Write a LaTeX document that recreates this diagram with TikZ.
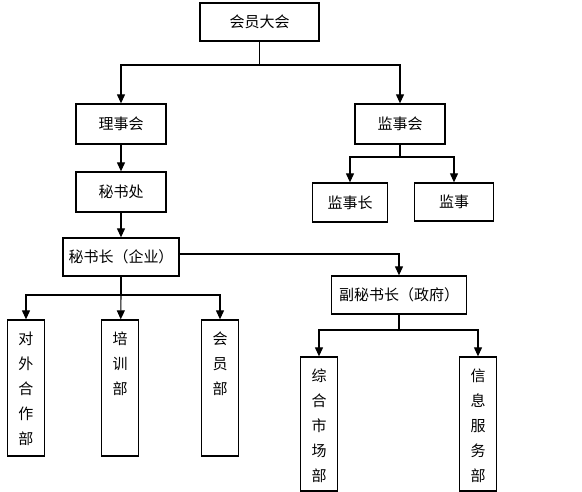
\documentclass[tikz,border=0pt]{standalone}
\usepackage{fontspec}
\newfontfamily\cjk{Noto Sans CJK SC}
\usetikzlibrary{positioning, arrows.meta}
\newcommand{\vlabel}[2]{\parbox[c][#1][t]{16pt}{\vspace*{3pt}\centering\baselineskip=25pt #2}}

\begin{document}
\begin{tikzpicture}[
        x=1pt, y=-1pt,
        box/.style={rectangle, draw=black, line width=1.3pt, minimum width=90pt, minimum height=40pt, align=center, font=\cjk\fontsize{15pt}{18pt}\selectfont, inner sep=0pt},
        vbox/.style={rectangle, draw=black, line width=1.3pt, minimum width=37pt, inner sep=0pt, font=\cjk\fontsize{15pt}{25pt}\selectfont},
        arr/.style={-{Triangle[width=8pt,length=9pt]}, line width=1.1pt},
        line/.style={line width=1.1pt}
    ]
    \useasboundingbox (0,0) rectangle (582,492);

    % MEMBERS
    \node[box, minimum width=119pt, minimum height=38pt] (dahui) at (259.5,22) {会员大会};

    % COUNCIL
    \node[box] (lishi) at (121,124) {理事会};
    \node[box] (mishuchu) at (121,192) {秘书处};
    \node[box, minimum width=116pt, minimum height=38pt] (mishuzhang) at (121,257) {秘书长（企业）};
    \node[box, minimum width=135pt, minimum height=38pt] (fumishu) at (399,295) {副秘书长（政府）};

    % SUPERVISORS
    \node[box] (jianshi) at (400,124) {监事会};
    \node[box, minimum width=75pt, minimum height=39pt] (jszhang) at (350,202.5) {监事长};
    \node[box, minimum width=79pt, minimum height=38pt] (jsshi) at (454,202) {监事};

    % DEPARTMENTS
    \node[vbox, minimum height=136pt] (duiwai) at (26,388) {\vlabel{118pt}{对\\外\\合\\作\\部}};
    \node[vbox, minimum height=136pt] (peixun) at (120,388) {\vlabel{118pt}{培\\训\\部}};
    \node[vbox, minimum height=136pt] (huiyuan) at (220,388) {\vlabel{118pt}{会\\员\\部}};
    \node[vbox, minimum height=134pt] (zonghe) at (319,424) {\vlabel{116pt}{综\\合\\市\\场\\部}};
    \node[vbox, minimum height=134pt] (xinxi) at (478,424) {\vlabel{116pt}{信\\息\\服\\务\\部}};

    % junctions
    \coordinate (j1) at (259.5,65);
    \coordinate (j2) at (400,157);
    \coordinate (j3) at (121,295);
    \coordinate (j4) at (399,330);

    % Connectors
    \draw[line] (dahui) -- (j1);
    \draw[arr] (j1) -| (lishi);
    \draw[arr] (j1) -| (jianshi);
    \draw[arr] (lishi) -- (mishuchu);
    \draw[arr] (mishuchu) -- (mishuzhang);
    \draw[line] (jianshi) -- (j2);
    \draw[arr] (j2) -| (jszhang);
    \draw[arr] (j2) -| (jsshi);
    \draw[arr] ([yshift=3pt]mishuzhang.east) -| (fumishu);
    \draw[line] (mishuzhang) -- (j3);
    \draw[arr] (j3) -| (duiwai);
    \draw[arr] (j3) -- (peixun);
    \draw[arr] (j3) -| (huiyuan);
    \draw[line] (fumishu) -- (j4);
    \draw[arr] (j4) -| (zonghe);
    \draw[arr] (j4) -| (xinxi);
\end{tikzpicture}
\end{document}
